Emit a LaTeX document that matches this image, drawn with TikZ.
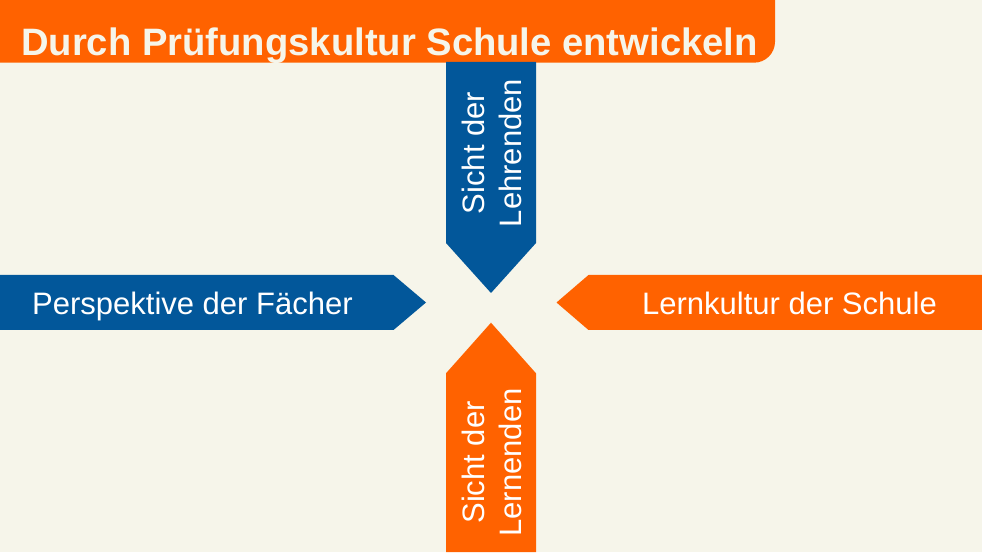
\documentclass[tikz,border=0pt]{standalone}
\usepackage{fontspec}
\setmainfont{Liberation Sans}
\definecolor{bgc}{HTML}{F6F5EA}
\definecolor{orng}{HTML}{FF6200}
\definecolor{blu}{HTML}{02579A}
\begin{document}
\begin{tikzpicture}[x=1pt,y=1pt,
  lbl/.style={text=white,inner sep=0pt,font=\fontsize{31}{37.5}\selectfont},
  vlbl/.style={lbl,rotate=90,align=center}]
\useasboundingbox (0,0) rectangle (982,552);
\fill[bgc] (0,0) rectangle (982,552);
% title bar
\fill[orng] (0,552) -- (775,552) -- (775,510.3) arc[start angle=0,end angle=-90,radius=21] -- (0,489.3) -- cycle;
\node[text=bgc,inner sep=0pt,anchor=base west,font=\bfseries\fontsize{38.2}{45}\selectfont] (title) at (21,496) {Durch Prüfungskultur Schule entwickeln};
% top arrow (blue)
\fill[blu] (446,490) -- (536,490) -- (536,309) -- (491,259) -- (446,309) -- cycle;
\node[vlbl] (lehr) at (492,399) {Sicht der\\Lehrenden};
% bottom arrow (orange)
\fill[orng] (446,0) -- (536,0) -- (536,178.7) -- (491,229.3) -- (446,178.7) -- cycle;
\node[vlbl] (lern) at (492,89.5) {Sicht der\\Lernenden};
% left arrow (blue)
\fill[blu] (0,277) -- (393.5,277) -- (426,249.5) -- (393.5,222) -- (0,222) -- cycle;
\node[lbl,anchor=base west] (faech) at (32,237) {Perspektive der Fächer};
% right arrow (orange)
\fill[orng] (982,277) -- (588.5,277) -- (556.5,249.5) -- (588.5,222) -- (982,222) -- cycle;
\node[lbl,anchor=base east] (kult) at (937,237) {Lernkultur der Schule};
\end{tikzpicture}
\end{document}
